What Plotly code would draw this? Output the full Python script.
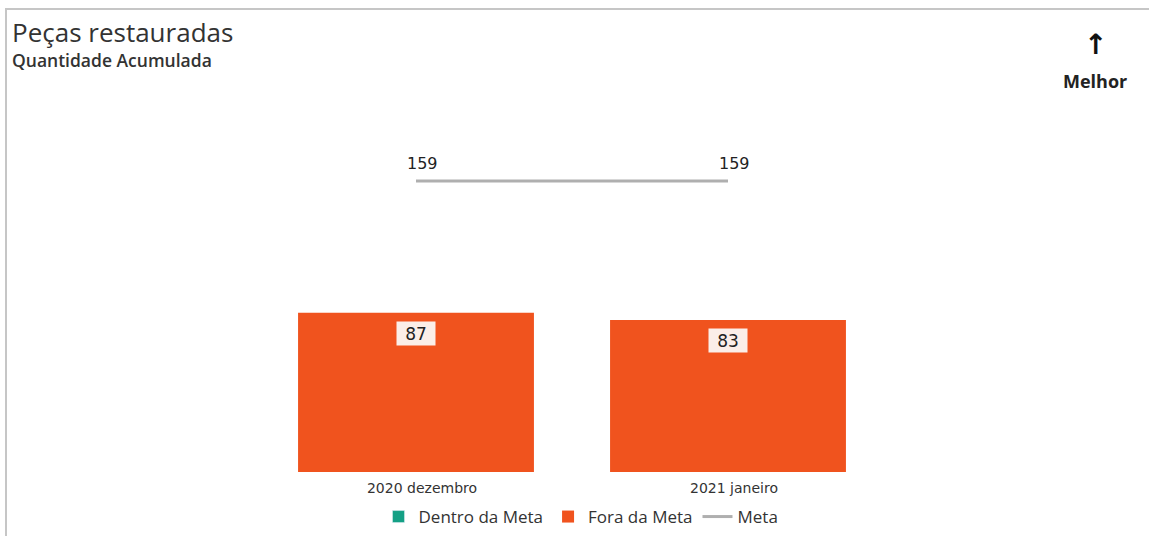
import plotly.graph_objects as go

# data
categorias = ["2020 dezembro", "2021 janeiro"]
fora_meta = [87, 83]
dentro_meta = [0, 0]
meta = [159, 159]

W, H = 1149, 536
# plot area in pixels (left, right, top, bottom)
PL, PR, PT, PB = 260, 884, 106, 472


def px_x(px):
    return (px - PL) / (PR - PL)


def px_y(py):
    return (PB - py) / (PB - PT)


fig = go.Figure()

fig.add_trace(go.Bar(
    x=categorias, y=dentro_meta, name="Dentro da Meta",
    marker=dict(color="#14A085"), hoverinfo="skip",
))
fig.add_trace(go.Bar(
    x=categorias, y=fora_meta, name="Fora da Meta",
    marker=dict(color="#F0531E", line=dict(width=0)),
))
fig.add_trace(go.Scatter(
    x=categorias, y=meta, name="Meta", mode="lines",
    line=dict(color="#AFAFAF", width=3),
))

annotations = []
# meta labels above the line
for c, v in zip(categorias, meta):
    annotations.append(dict(
        x=c, y=v, xref="x", yref="y", yanchor="middle", yshift=18, xshift=6,
        text=str(v), showarrow=False,
        font=dict(family="DejaVu Sans", size=16, color="#222222"),
    ))
# value labels in little boxes near the top of each bar
for c, v in zip(categorias, fora_meta):
    annotations.append(dict(
        x=c, y=v, xref="x", yref="y", yanchor="top", yshift=-8,
        text=str(v), showarrow=False, width=32, height=17,
        font=dict(family="DejaVu Sans", size=17, color="#222222"),
        bgcolor="#FBEEE8", borderpad=3,
    ))

# titles and the "Melhor" marker
annotations += [
    dict(x=px_x(10), y=px_y(32), xref="paper", yref="paper", xanchor="left",
         yanchor="middle", text="Peças restauradas", showarrow=False,
         font=dict(family="Open Sans", size=26, color="#333333")),
    dict(x=px_x(10), y=px_y(60), xref="paper", yref="paper", xanchor="left",
         yanchor="middle", text="Quantidade Acumulada", showarrow=False,
         font=dict(family="Open Sans", size=17.5, color="#333333", weight=600)),
    dict(x=px_x(1095), y=px_y(45), xref="paper", yref="paper", xanchor="center",
         yanchor="middle", text="<b>↑</b>", showarrow=False,
         font=dict(family="DejaVu Sans", size=28, color="#111111")),
    dict(x=px_x(1095), y=px_y(81), xref="paper", yref="paper", xanchor="center",
         yanchor="middle", text="<b>Melhor</b>", showarrow=False,
         font=dict(family="Open Sans", size=18, color="#222222")),
]

fig.update_layout(
    width=W, height=H,
    margin=dict(l=PL, r=W - PR, t=PT, b=H - PB, autoexpand=False),
    paper_bgcolor="white", plot_bgcolor="white",
    barmode="overlay", bargap=0.244,
    showlegend=True,
    legend=dict(orientation="h", x=px_x(581), xanchor="center", y=px_y(517),
                yanchor="middle", font=dict(family="Open Sans", size=17, color="#333333"),
                itemwidth=30, traceorder="normal"),
    xaxis=dict(showgrid=False, zeroline=False, showline=False, ticks="",
               ticklabelshift=6, ticklabelstandoff=6,
               tickfont=dict(family="DejaVu Sans", size=14, color="#333333")),
    yaxis=dict(range=[0, 200], visible=False, showgrid=False, zeroline=False),
    annotations=annotations,
    shapes=[dict(type="rect", xref="paper", yref="paper",
                 x0=px_x(6), x1=px_x(1160), y0=px_y(560), y1=px_y(9),
                 line=dict(color="#C6C6C6", width=2), layer="below")],
)

fig.write_html("out.html", config=dict(displayModeBar=False),
               post_script="document.body.style.margin='0';")
